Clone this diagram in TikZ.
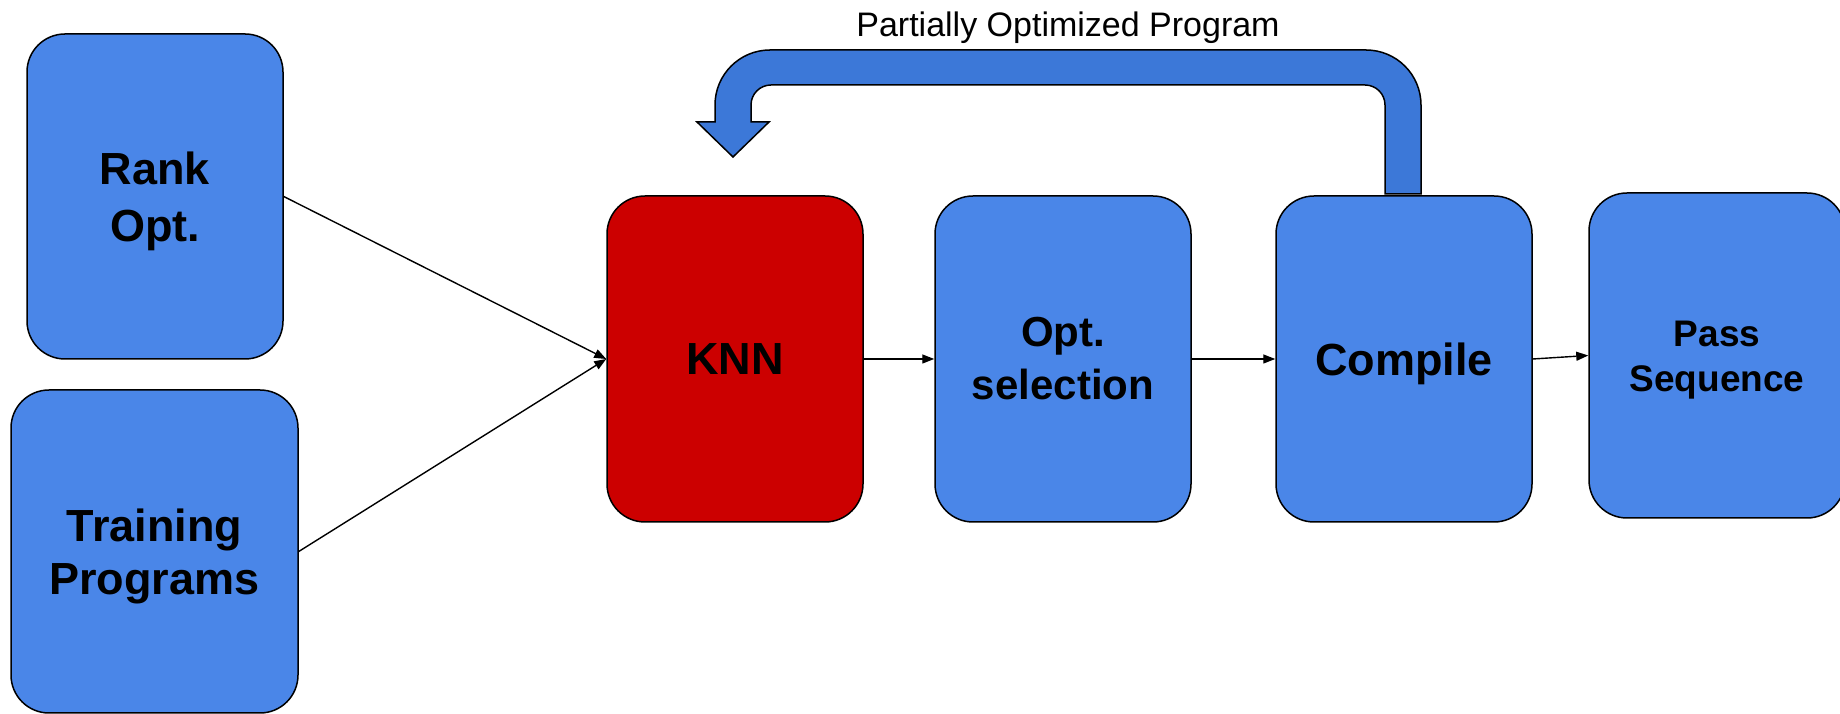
\documentclass[tikz,border=0pt]{standalone}
\usepackage{fontspec}
\setmainfont{Liberation Sans}
\usetikzlibrary{arrows.meta}

\definecolor{boxblue}{HTML}{4A86E8}
\definecolor{loopblue}{HTML}{3C78D8}
\definecolor{knnred}{HTML}{CC0000}

\tikzset{
  stage/.style={draw=black, line width=1.5pt, rounded corners=38pt,
    fill=boxblue, minimum width=256pt, minimum height=326pt, inner sep=0pt},
  stagetext/.style={anchor=base, inner sep=0pt, font=\bfseries\fontsize{45}{54}\selectfont},
  flow/.style={line width=1.4pt, -{Triangle[length=12pt,width=9pt]}},
}

\begin{document}
\begin{tikzpicture}[x=1pt,y=1pt]
\useasboundingbox (0,0) rectangle (1840,714);

% pipeline stages
\node[stage, minimum height=325pt] (rank) at (155,517.5) {};
\node[stage, minimum width=287pt, minimum height=323pt] (train) at (154.5,162.5) {};
\node[stage, fill=knnred] (knn) at (735,355) {};
\node[stage] (opt) at (1063,355) {};
\node[stage] (comp) at (1404,355) {};
\node[stage, minimum height=325pt] (pass) at (1717,358.5) {};

% stage captions, one node per printed line
\node[stagetext] (rank1) at (155,529) {Rank};
\node[stagetext] (rank2) at (155,472) {Opt.};
\node[stagetext] (train1) at (154.5,172) {Training};
\node[stagetext] (train2) at (154.5,119) {Programs};
\node[stagetext] (knn1) at (735,339) {KNN};
\node[stagetext, font=\bfseries\fontsize{42}{50}\selectfont] (opt1) at (1063,367) {Opt.};
\node[stagetext, font=\bfseries\fontsize{42}{50}\selectfont] (opt2) at (1063,314) {selection};
\node[stagetext] (comp1) at (1404,338) {Compile};
\node[stagetext, font=\bfseries\fontsize{37}{45}\selectfont] (pass1) at (1717,367) {Pass};
\node[stagetext, font=\bfseries\fontsize{37}{45}\selectfont] (pass2) at (1717,322) {Sequence};

% connectors
\draw[flow] (rank.east) -- (knn.west);
\draw[flow] (train.east) -- (knn.west);
\draw[flow] (knn.east) -- (opt.west);
\draw[flow] (opt.east) -- (comp.west);
\draw[flow] (comp.east) -- (pass.west);

% feedback block arrow from Compile back to KNN
\draw[fill=loopblue, line width=1.5pt, line join=miter]
  (1421,520) -- (1421,609) arc[start angle=0, end angle=90, radius=55pt]
  -- (770,664) arc[start angle=90, end angle=180, radius=55pt]
  -- (715,592) -- (697,592) -- (733,557) -- (769,592) -- (751,592)
  -- (751,609) arc[start angle=180, end angle=90, radius=20pt]
  -- (1365,629) arc[start angle=90, end angle=0, radius=20pt]
  -- (1385,520) -- cycle;

\node[anchor=base, inner sep=0pt, font=\fontsize{34}{40}\selectfont] (loopl) at (1068,677) {Partially Optimized Program};
\end{tikzpicture}
\end{document}
